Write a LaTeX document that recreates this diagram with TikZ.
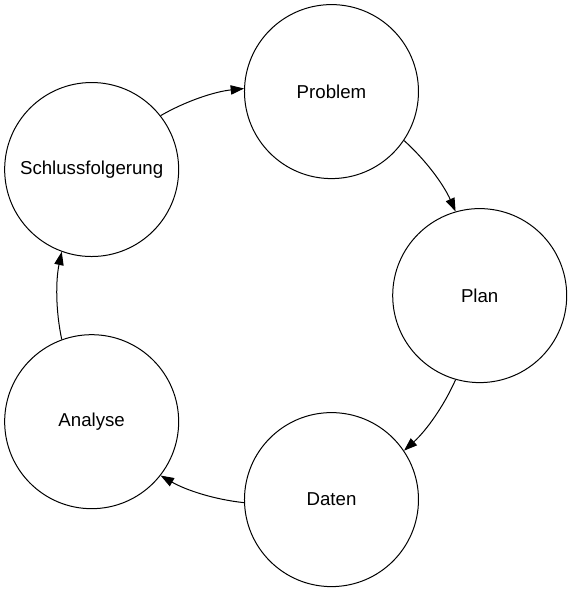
\documentclass[tikz,border=0pt]{standalone}
\usepackage{fontspec}
\setmainfont{Liberation Sans}
\usetikzlibrary{arrows.meta}
\newcommand{\ringradius}{214.5}
\newcommand{\anchoroffset}{106}
\newcommand{\tangentoffset}{114}

\begin{document}
\begin{tikzpicture}[x=0.75pt, y=0.75pt,
        stage/.style = {draw, circle, line width=0.75pt, minimum size=130.5pt, inner sep=0pt,
            font=\fontsize{14}{16}\selectfont},
        flow/.style = {-{Triangle[length=10pt, width=7pt]}, line width=0.75pt, looseness=0.86}]

        \useasboundingbox (-265.2,-296.4) rectangle (306.8,295.6);

        %Stages
        \foreach \nm/\ang/\lab in {pro/72/Problem, pla/0/Plan, dat/-72/Daten, ana/-144/Analyse, sch/144/Schlussfolgerung} {
            \node[stage] (\nm) at (\ang:\ringradius) {\lab};
        }

        %Cycle
        \foreach \a/\b/\ta/\tb in {sch/pro/144/72, pro/pla/72/0, pla/dat/0/-72, dat/ana/-72/-144, ana/sch/-144/-216} {
            \pgfmathsetmacro{\sa}{\ta-\anchoroffset}
            \pgfmathsetmacro{\ea}{\tb+\anchoroffset}
            \pgfmathsetmacro{\so}{\ta-\tangentoffset}
            \pgfmathsetmacro{\ei}{\tb+\tangentoffset}
            \draw[flow] (\a.\sa) to[out=\so, in=\ei] (\b.\ea);
        }
\end{tikzpicture}
\end{document}
